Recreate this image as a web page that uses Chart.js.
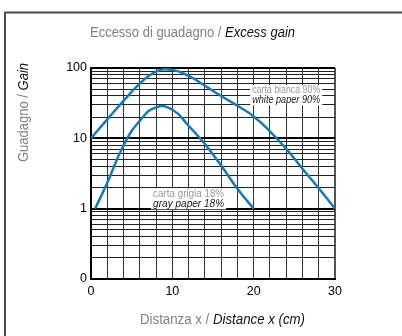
<!DOCTYPE html>
<html><head><meta charset="utf-8">
<script src="https://cdn.jsdelivr.net/npm/chart.js@4"></script>
<style>html,body{margin:0;padding:0;background:#fff;}canvas{display:block;}</style>
</head><body>
<canvas id="c" width="402" height="336"></canvas>
<script>
// ---- data ----
const distWhite = [0, 2, 4, 6, 8, 10, 12, 14, 16, 18, 20, 22, 24, 26, 28, 30];
const gainWhite = [10, 18.6, 34, 60, 89, 94, 77, 56, 40, 29, 20.5, 12.6, 7.1, 3.7, 1.95, 1];
const distGray = [0.5, 2, 4, 6, 8, 10, 12, 14, 16, 18, 20];
const gainGray = [1, 2.33, 7.9, 17.8, 27.5, 25.5, 15.1, 8.3, 4.1, 1.92, 1];
const xTickValues = [0, 10, 20, 30];
const yMajorValues = [0.1, 1, 10, 100];
const yTickLabels = ['0', '1', '10', '100'];
const titleParts = ['Eccesso di guadagno / ', 'Excess gain'];
const yTitleParts = ['Guadagno / ', 'Gain'];
const xTitleParts = ['Distanza x / ', 'Distance x (cm)'];
const whiteLabel = ['carta bianca 90%', 'white paper 90%'];
const whiteLabelAt = [24, 41];
const grayLabel = ['carta grigia 18%', 'gray paper 18%'];
const grayLabelAt = [12, 1.38];

const FONT = "'Liberation Sans', Arial, sans-serif";
const BLUE = '#1479bd';
const isMajor = v => yMajorValues.some(m => Math.abs(m - v) < 1e-9);

function drawRich(ctx, segs, cx, cy, size, targetW, rotate) {
  let total = 0;
  const widths = segs.map(s => {
    ctx.font = (s.italic ? 'italic ' : '') + size + 'px ' + FONT;
    const w = ctx.measureText(s.text).width; total += w; return w;
  });
  const sx = targetW ? targetW / total : 1;
  ctx.save();
  ctx.translate(cx, cy);
  if (rotate) ctx.rotate(-Math.PI / 2);
  ctx.scale(sx, 1);
  ctx.textBaseline = 'middle';
  ctx.textAlign = 'left';
  let x = -total / 2;
  segs.forEach((s, i) => {
    ctx.font = (s.italic ? 'italic ' : '') + size + 'px ' + FONT;
    ctx.fillStyle = s.color;
    ctx.fillText(s.text, x, 0);
    x += widths[i];
  });
  ctx.restore();
}

const decor = {
  id: 'decor',
  beforeDraw(chart) {
    const ctx = chart.ctx;
    ctx.save();
    ctx.fillStyle = '#fff';
    ctx.fillRect(0, 0, chart.width, chart.height);
    ctx.strokeStyle = '#4a4a4a';
    ctx.lineWidth = 2;
    ctx.strokeRect(5, 12.5, 600, 600);
    ctx.restore();
    drawRich(ctx, [{text: titleParts[0], color: '#808080'}, {text: titleParts[1], italic: true, color: '#111'}], 192.5, 33, 14, 205);
    drawRich(ctx, [{text: yTitleParts[0], color: '#808080'}, {text: yTitleParts[1], italic: true, color: '#111'}], 24, 112.5, 14, 99, true);
    drawRich(ctx, [{text: xTitleParts[0], color: '#808080'}, {text: xTitleParts[1], italic: true, color: '#111'}], 222.5, 320.5, 14, 165);
  },
  afterDatasetsDraw(chart) {
    const ctx = chart.ctx;
    const xs = chart.scales.x, ys = chart.scales.y;
    const boxes = [[whiteLabel, whiteLabelAt, 72, 20], [grayLabel, grayLabelAt, 75, 21]];
    boxes.forEach(([lines, at, bw, bh]) => {
      const cx = xs.getPixelForValue(at[0]);
      const cy = ys.getPixelForValue(at[1]);
      ctx.fillStyle = '#fff';
      ctx.fillRect(cx - bw / 2, cy - bh / 2, bw, bh);
      drawRich(ctx, [{text: lines[0], color: '#999'}], cx, cy - 5, 11, bw - 4);
      drawRich(ctx, [{text: lines[1], italic: true, color: '#1a1a1a'}], cx, cy + 5, 11, bw - 4);
    });
  }
};

new Chart(document.getElementById('c'), {
  type: 'line',
  data: {
    datasets: [
      {data: distWhite.map((x, i) => ({x, y: gainWhite[i]})), borderColor: BLUE, borderWidth: 2.5, pointRadius: 0, tension: 0.5, fill: false},
      {data: distGray.map((x, i) => ({x, y: gainGray[i]})), borderColor: BLUE, borderWidth: 2.5, pointRadius: 0, tension: 0.5, fill: false}
    ]
  },
  options: {
    responsive: false,
    devicePixelRatio: 1,
    animation: false,
    events: [],
    layout: {padding: {left: 0, top: 68, right: 67, bottom: 0}},
    plugins: {legend: {display: false}, title: {display: false}, tooltip: {enabled: false}},
    scales: {
      x: {
        type: 'linear', min: 0, max: 30,
        afterFit: s => { s.height = 57; },
        afterBuildTicks: s => { s.ticks = []; for (let v = 0; v <= 30; v += 2) s.ticks.push({value: v}); },
        ticks: {
          autoSkip: false, maxRotation: 0, padding: 5, color: '#000',
          font: {family: FONT, size: 12.5},
          callback: v => xTickValues.includes(v) ? String(v) : ''
        },
        grid: {
          drawTicks: false,
          color: ctx => ctx.tick && ctx.tick.value === 30 ? '#555' : '#333',
          lineWidth: ctx => ctx.tick && ctx.tick.value === 30 ? 2 : 1
        },
        border: {display: true, color: '#000', width: 2}
      },
      y: {
        type: 'logarithmic', min: 0.1, max: 100,
        afterFit: s => { s.width = 91; },
        afterBuildTicks: s => {
          const t = [];
          [0.1, 1, 10].forEach(d => { for (let m = 1; m <= 9; m++) t.push({value: Number((m * d).toPrecision(3))}); });
          t.push({value: 100});
          s.ticks = t;
        },
        ticks: {
          autoSkip: false, padding: 4, color: '#000',
          font: {family: FONT, size: 12.5},
          callback: v => { const i = yMajorValues.findIndex(m => Math.abs(m - v) < 1e-9); return i >= 0 ? yTickLabels[i] : ''; }
        },
        grid: {
          drawTicks: false,
          color: ctx => ctx.tick && isMajor(ctx.tick.value) ? '#000' : '#222',
          lineWidth: ctx => ctx.tick && isMajor(ctx.tick.value) ? 2 : 1
        },
        border: {display: true, color: '#000', width: 2}
      }
    }
  },
  plugins: [decor]
});
</script>
</body></html>
